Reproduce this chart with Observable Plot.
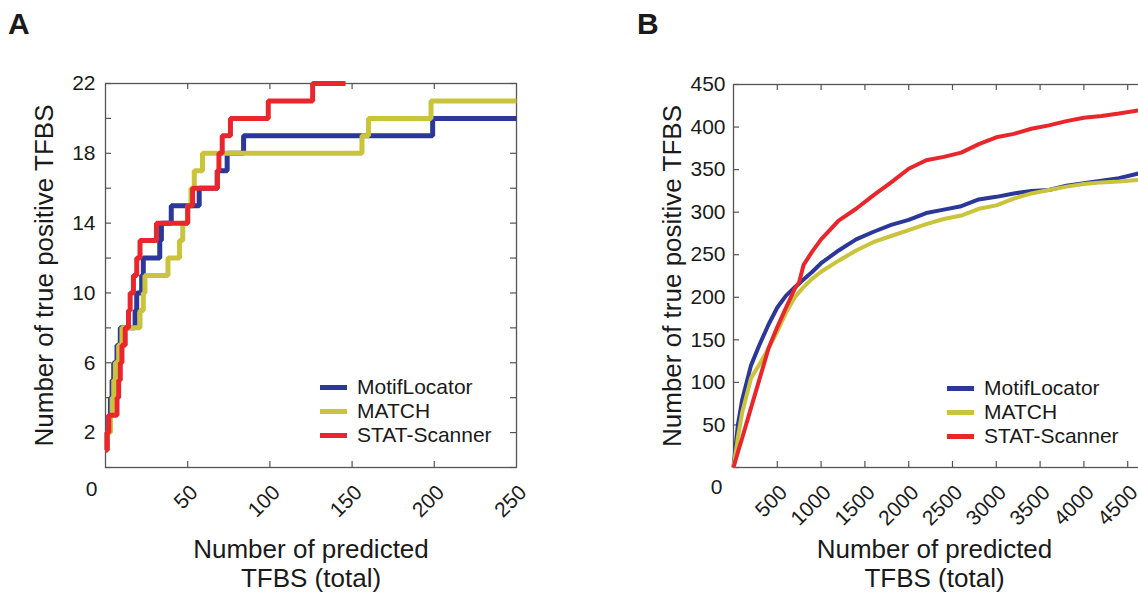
<!DOCTYPE html>
<html>
<head>
<meta charset="utf-8">
<script src="https://cdn.jsdelivr.net/npm/d3@7"></script>
<script src="https://cdn.jsdelivr.net/npm/@observablehq/plot@0.6"></script>
<style>
  html, body { margin: 0; padding: 0; background: #fff; overflow: hidden; }
  #wrap { position: relative; width: 1138px; height: 593px; overflow: hidden;
          font-family: "Liberation Sans", Arial, sans-serif; color: #1a1a1a; }
  .panel { position: absolute; top: 0; }
  .panel svg { max-width: none !important; display: block; }
  .plabel { position: absolute; top: 9px; font-size: 30px; line-height: 30px; font-weight: bold; }
  .legend { position: absolute; font-size: 21px; }
  .legend .row { display: flex; align-items: center; height: 24px; line-height: 24px; }
  .legend .sw { display: inline-block; width: 27px; margin-right: 10px; }
</style>
</head>
<body>
<div id="wrap">
  <div class="plabel" style="left:8px">A</div>
  <div class="plabel" style="left:637px">B</div>
  <div class="panel" id="panelA" style="left:0px;width:600px"></div>
  <div class="panel" id="panelB" style="left:600px;width:591px"></div>
  <div class="legend" id="legA" style="left:320px;top:375px"></div>
  <div class="legend" id="legB" style="left:947px;top:376px"></div>
</div>
<script>
// ---- shared ----
const seriesNames = ["MotifLocator", "MATCH", "STAT-Scanner"];
const seriesColors = ["#2b3899", "#c9c43c", "#e8262b"];
const yTitle = "Number of true positive TFBS";
const xTitle = "Number of predicted\nTFBS (total)";

// ---- Panel A (step curves) ----
const aMotifX = [0,1,2,3,4,5,7,9,18,19,22,23,33,34,40,57,68,74,84,199,250];
const aMotifY = [1,2,3,4,5,6,7,8,9,10,11,12,13,14,15,16,17,18,19,20,20];
const aMatchX = [0,1,3,4,5,6,8,10,21,23,24,38,45,47,50,52,54,59,156,160,198,250];
const aMatchY = [1,2,3,4,5,6,7,8,9,10,11,12,13,14,15,16,17,18,19,20,21,21];
const aStatX  = [0,1,2,7,8,9,10,12,14,15,17,19,21,31,50,53,68,69,71,76,99,126,146];
const aStatY  = [1,2,3,4,5,6,7,8,9,10,11,12,13,14,15,16,17,18,19,20,21,22,22];
const aXTicks = [50,100,150,200];
const aXLabels = [0,50,100,150,200,250];
const aYTicks = [0,2,4,6,8,10,12,14,16,18,20,22];
const aYLabels = [2,6,10,14,18,22];

// ---- Panel B ----
const bX      = [0,50,100,200,300,400,500,600,700,750,800,900,1000,1200,1400,1600,1800,2000,2200,2400,2600,2800,3000,3200,3400,3600,3800,4000,4200,4400,4650];
const bMotifY = [0,50,80,120,145,168,188,202,212,216,221,230,240,255,268,277,285,291,299,303,307,315,318,322,325,326,331,334,337,340,346];
const bMatchY = [0,35,65,105,122,140,160,182,200,206,212,222,230,243,255,265,272,279,286,292,296,304,308,316,322,326,330,333,335,336,338];
const bStatY  = [0,18,35,70,105,140,165,188,210,218,238,254,268,290,304,320,335,351,361,365,370,380,388,392,398,402,407,411,413,416,420];
const bXTicks = [500,1000,1500,2000,2500,3000,3500,4000,4500];
const bXLabels = [0,500,1000,1500,2000,2500,3000,3500,4000,4500];
const bYTicks = [0,50,100,150,200,250,300,350,400,450];
const bYLabels = [50,100,150,200,250,300,350,400,450];

const zip = (xs, ys) => xs.map((x, i) => ({x, y: ys[i]}));

function makePanel(o) {
  const {width, height, mt, mr, mb, ml} = o;
  const W = width - ml - mr, H = height - mt - mb;
  const tickLen = 6;
  const axisColor = "#555";
  const series = [
    {data: o.motif, color: seriesColors[0]},
    {data: o.match, color: seriesColors[1]},
    {data: o.stat,  color: seriesColors[2]}
  ];
  return Plot.plot({
    width, height,
    marginTop: mt, marginRight: mr, marginBottom: mb, marginLeft: ml,
    x: {domain: o.xDomain, axis: null},
    y: {domain: o.yDomain, axis: null},
    style: {fontFamily: '"Liberation Sans", Arial, sans-serif', fontSize: "21px", color: "#1a1a1a", background: "transparent", overflow: "visible"},
    marks: [
      Plot.frame({stroke: axisColor, strokeWidth: 1.3}),
      Plot.tickX(o.xTicks, {x: d => d, stroke: axisColor, strokeWidth: 1.2, insetTop: H - tickLen}),
      Plot.tickX(o.xTicks, {x: d => d, stroke: axisColor, strokeWidth: 1.2, insetBottom: H - tickLen}),
      Plot.tickY(o.yTicks, {y: d => d, stroke: axisColor, strokeWidth: 1.2, insetRight: W - tickLen}),
      Plot.tickY(o.yTicks, {y: d => d, stroke: axisColor, strokeWidth: 1.2, insetLeft: W - tickLen}),
      ...series.map(s => Plot.line(s.data, {x: "x", y: "y", stroke: s.color, strokeWidth: o.strokeWidth, curve: o.curve, strokeLinejoin: "miter", strokeLinecap: "butt"})),
      Plot.text(o.yLabels, {y: d => d, text: d => String(d), frameAnchor: "left", textAnchor: "end", lineAnchor: "middle", dx: o.yLabelDx, fontSize: 21}),
      Plot.text(o.xLabels.filter(d => d !== 0), {x: d => d, text: d => String(d), frameAnchor: "bottom", rotate: -45, textAnchor: "end", lineAnchor: "middle", dx: 6.5, dy: 21.5, fontSize: 21}),
      Plot.text(o.xLabels.filter(d => d === 0), {x: d => d, text: d => String(d), frameAnchor: "bottom", textAnchor: "middle", lineAnchor: "middle", dx: o.zeroDx, dy: o.zeroDy, fontSize: 21}),
      Plot.text([yTitle], {text: d => d, frameAnchor: "left", rotate: -90, textAnchor: "middle", lineAnchor: "middle", dx: -61, fontSize: 26}),
      Plot.text([xTitle], {text: d => d, frameAnchor: "bottom", textAnchor: "middle", lineAnchor: "middle", dx: o.xTitleDx, dy: 95.5, fontSize: 26, lineHeight: 1.12})
    ]
  });
}

document.getElementById("panelA").append(makePanel({
  width: 600, height: 593, mt: 83, mr: 84, mb: 126, ml: 105,
  xDomain: [0, 250], yDomain: [0, 22],
  xTicks: aXTicks, xLabels: aXLabels, yTicks: aYTicks, yLabels: aYLabels,
  motif: zip(aMotifX, aMotifY), match: zip(aMatchX, aMatchY), stat: zip(aStatX, aStatY),
  strokeWidth: 5, curve: "step-after",
  yLabelDx: -10, zeroDx: -14, zeroDy: 22, xTitleDx: 0
}));

document.getElementById("panelB").append(makePanel({
  width: 591, height: 593, mt: 84, mr: 20, mb: 126, ml: 133,
  xDomain: [0, 5000], yDomain: [0, 450],
  xTicks: bXTicks, xLabels: bXLabels, yTicks: bYTicks, yLabels: bYLabels,
  motif: zip(bX, bMotifY), match: zip(bX, bMatchY), stat: zip(bX, bStatY),
  strokeWidth: 4, curve: "linear",
  yLabelDx: -8, zeroDx: -17, zeroDy: 20, xTitleDx: -18
}));

function legend(id, thick) {
  const el = document.getElementById(id);
  seriesNames.forEach((name, i) => {
    const row = document.createElement("div");
    row.className = "row";
    const sw = document.createElement("span");
    sw.className = "sw";
    sw.style.height = thick + "px";
    sw.style.background = seriesColors[i];
    const t = document.createElement("span");
    t.textContent = name;
    row.append(sw, t);
    el.append(row);
  });
}
legend("legA", 5);
legend("legB", 5);
</script>
</body>
</html>
